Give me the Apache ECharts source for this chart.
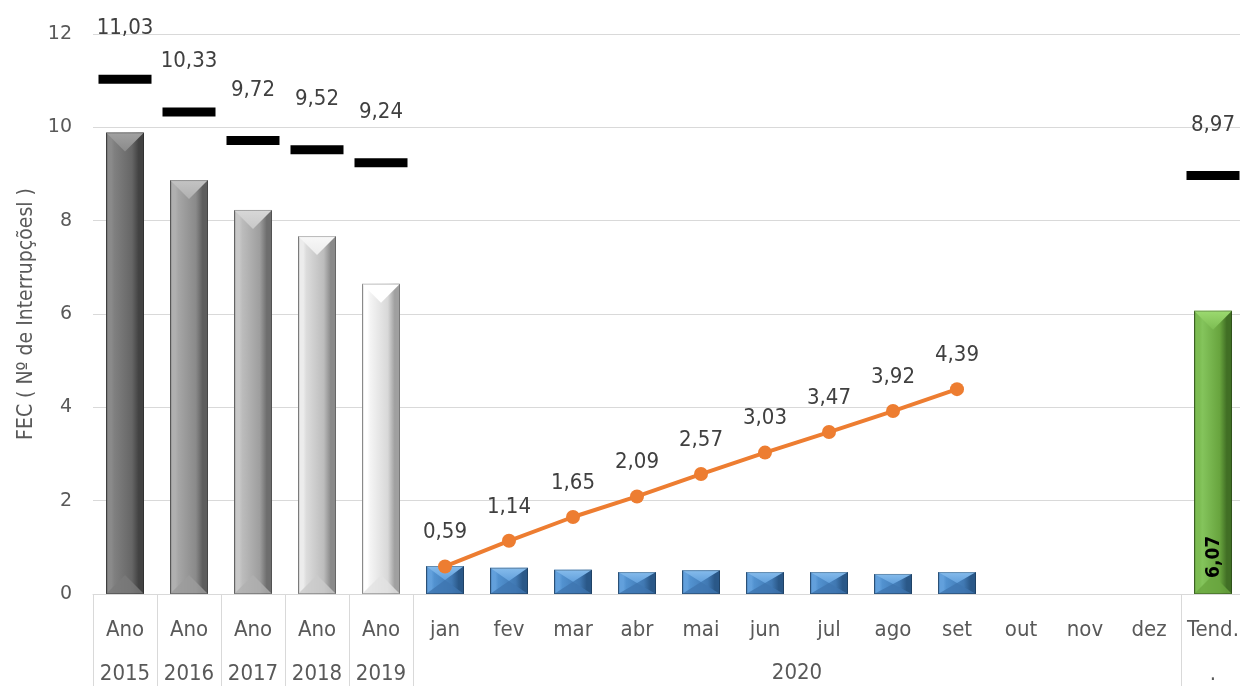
<!DOCTYPE html>
<html>
<head>
<meta charset="utf-8">
<script src="https://cdn.jsdelivr.net/npm/echarts@6/dist/echarts.min.js"></script>
<style>
  html, body { margin: 0; padding: 0; background: #ffffff; }
  #chart { width: 1240px; height: 686px; }
</style>
</head>
<body>
<div id="chart"></div>
<script>
// ---- data ----
const yearLabels = ['Ano\n2015', 'Ano\n2016', 'Ano\n2017', 'Ano\n2018', 'Ano\n2019'];
const monthLabels = ['jan', 'fev', 'mar', 'abr', 'mai', 'jun', 'jul', 'ago', 'set', 'out', 'nov', 'dez'];
const trendLabel = 'Tend.\n.';
const groupLabel = '2020';
const annualFEC = [9.89, 8.87, 8.23, 7.67, 6.65];
const annualLimit = [11.03, 10.33, 9.72, 9.52, 9.24];
const monthlyFEC = [0.60, 0.56, 0.52, 0.47, 0.51, 0.47, 0.47, 0.43, 0.47];
const cumulativeFEC = [0.59, 1.14, 1.65, 2.09, 2.57, 3.03, 3.47, 3.92, 4.39];
const trendFEC = 6.07;
const trendLimit = 8.97;
const yMin = 0, yMax = 12, yStep = 2;
const yAxisTitle = 'FEC ( Nº de Interrupçõesl )';

const categories = yearLabels.concat(monthLabels, [trendLabel]);
const firstMonth = yearLabels.length;
const trendIndex = categories.length - 1;

// ---- styling ----
const NARROW = "'DejaVu Sans Condensed', 'Liberation Sans Narrow', sans-serif";
const TEXT = '#595959';
const GRID = '#d9d9d9';
const BAR_W = 38;

const greyPalettes = [
  { left: '#8a8a8a', faceL: '#808080', faceR: '#666666', right: '#424242', cap: '#a2a2a2', foot: '#7a7a7a' },
  { left: '#b0b0b0', faceL: '#a6a6a6', faceR: '#8a8a8a', right: '#5e5e5e', cap: '#c4c4c4', foot: '#9c9c9c' },
  { left: '#c8c8c8', faceL: '#bcbcbc', faceR: '#9e9e9e', right: '#6e6e6e', cap: '#d8d8d8', foot: '#b0b0b0' },
  { left: '#ececec', faceL: '#dcdcdc', faceR: '#bcbcbc', right: '#8a8a8a', cap: '#f8f8f8', foot: '#cacaca' },
  { left: '#ffffff', faceL: '#f4f4f4', faceR: '#d8d8d8', right: '#a0a0a0', cap: '#ffffff', foot: '#e2e2e2' }
];
const bluePalette = [{ left: '#62a0dc', faceL: '#5292d0', faceR: '#4078b2', right: '#2a5888', cap: '#86bcec', foot: '#3e76b0' }];
const greenPalette = [{ left: '#7cbc52', faceL: '#84c45c', faceR: '#68a43e', right: '#416f25', cap: '#9cda70', foot: '#6aa640' }];

const fmt = v => v.toFixed(2).replace('.', ',');

// Bar drawn with a bevelled face: shaded body, lighter top facet, bottom facet
function bevelBar(palettes, valueText) {
  return function (params, api) {
    const p = palettes[Math.min(params.dataIndex, palettes.length - 1)];
    const val = api.value(1);
    const top = api.coord([api.value(0), val]);
    const base = api.coord([api.value(0), 0]);
    const xc = top[0];
    const x0 = xc - BAR_W / 2, x1 = xc + BAR_W / 2;
    const y0 = top[1], y1 = base[1], h = y1 - y0;
    const d = Math.min(BAR_W / 2, h / 2);
    const children = [
      {
        type: 'rect',
        shape: { x: x0, y: y0, width: BAR_W, height: h },
        style: {
          fill: new echarts.graphic.LinearGradient(0, 0, 1, 0, [
            { offset: 0, color: p.right },
            { offset: 0.05, color: p.left },
            { offset: 0.14, color: p.left },
            { offset: 0.22, color: p.faceL },
            { offset: 0.68, color: p.faceR },
            { offset: 0.86, color: p.right },
            { offset: 1, color: p.right }
          ])
        }
      },
      {
        type: 'polygon',
        shape: { points: [[x0, y1], [x1, y1], [xc, y1 - d]] },
        style: { fill: p.foot, opacity: 0.8 }
      },
      {
        type: 'polygon',
        shape: { points: [[x0, y0], [x1, y0], [xc, y0 + d]] },
        style: {
          fill: new echarts.graphic.LinearGradient(0, 0, 0, 1, [
            { offset: 0, color: p.cap },
            { offset: 1, color: p.left }
          ])
        }
      },
      {
        type: 'rect',
        shape: { x: x0 + 0.5, y: y0 + 0.5, width: BAR_W - 1, height: h - 1 },
        style: { fill: 'none', stroke: 'rgba(0,0,0,0.25)', lineWidth: 1 }
      }
    ];
    if (valueText) {
      children.push({
        type: 'text',
        x: xc + 1, y: y1 - 16,
        rotation: Math.PI / 2,
        style: {
          text: fmt(val),
          font: 'bold 19px ' + NARROW,
          fill: '#000000',
          align: 'left',
          verticalAlign: 'middle'
        }
      });
    }
    return { type: 'group', children: children };
  };
}

const chart = echarts.init(document.getElementById('chart'), null, { renderer: 'canvas' });

chart.setOption({
  animation: false,
  backgroundColor: '#ffffff',
  grid: { left: 93, top: 34, width: 1152, height: 560, containLabel: false, outerBoundsMode: 'none' },
  xAxis: [
    {
      type: 'category',
      data: categories,
      boundaryGap: true,
      axisLine: { lineStyle: { color: GRID, width: 1 } },
      axisTick: { show: false },
      splitLine: { show: false },
      axisLabel: {
        interval: 0,
        margin: 14,
        color: TEXT,
        fontSize: 22,
        lineHeight: 44,
        fontFamily: NARROW
      }
    },
    {
      type: 'value',
      min: 0,
      max: categories.length,
      position: 'bottom',
      axisLine: { show: false },
      splitLine: { show: false },
      axisTick: {
        show: true,
        customValues: [0, 1, 2, 3, 4, firstMonth, trendIndex],
        length: 93,
        lineStyle: { color: GRID, width: 1 }
      },
      axisLabel: {
        customValues: [firstMonth + monthLabels.length / 2],
        formatter: () => groupLabel,
        margin: 67,
        color: TEXT,
        fontSize: 22,
        lineHeight: 24,
        fontFamily: NARROW
      }
    }
  ],
  yAxis: {
    type: 'value',
    min: yMin,
    max: yMax,
    interval: yStep,
    axisLine: { show: false },
    axisTick: { show: false },
    splitLine: { lineStyle: { color: GRID, width: 1 } },
    axisLabel: { color: TEXT, fontSize: 19, fontFamily: 'DejaVu Sans', margin: 21 },
    name: yAxisTitle,
    nameLocation: 'middle',
    nameGap: 56,
    nameRotate: 90,
    nameTextStyle: { color: TEXT, fontSize: 21, fontFamily: NARROW }
  },
  series: [
    {
      name: 'FEC anual',
      type: 'custom',
      xAxisIndex: 0,
      renderItem: bevelBar(greyPalettes, false),
      encode: { x: 0, y: 1 },
      data: annualFEC.map((v, i) => [i, v]),
      z: 2
    },
    {
      name: 'FEC mensal',
      type: 'custom',
      xAxisIndex: 0,
      renderItem: bevelBar(bluePalette, false),
      encode: { x: 0, y: 1 },
      data: monthlyFEC.map((v, i) => [firstMonth + i, v]),
      z: 2
    },
    {
      name: 'Tendência',
      type: 'custom',
      xAxisIndex: 0,
      renderItem: bevelBar(greenPalette, true),
      encode: { x: 0, y: 1 },
      data: [[trendIndex, trendFEC]],
      z: 2
    },
    {
      name: 'Limite',
      type: 'scatter',
      xAxisIndex: 0,
      symbol: 'rect',
      symbolSize: [53, 9],
      itemStyle: { color: '#000000', opacity: 1 },
      data: annualLimit.map((v, i) => [i, v]).concat([[trendIndex, trendLimit]]),
      label: {
        show: true,
        position: 'top',
        distance: 35,
        color: '#404040',
        fontSize: 22,
        fontFamily: NARROW,
        formatter: p => fmt(p.value[1])
      },
      z: 4
    },
    {
      name: 'FEC acumulado',
      type: 'line',
      xAxisIndex: 0,
      data: cumulativeFEC.map((v, i) => [firstMonth + i, v]),
      symbol: 'circle',
      symbolSize: 14,
      lineStyle: { color: '#ED7D31', width: 4 },
      itemStyle: { color: '#ED7D31' },
      label: {
        show: true,
        position: 'top',
        distance: 16,
        color: '#404040',
        fontSize: 22,
        fontFamily: NARROW,
        formatter: p => fmt(p.value[1])
      },
      z: 5
    }
  ]
});
</script>
</body>
</html>
